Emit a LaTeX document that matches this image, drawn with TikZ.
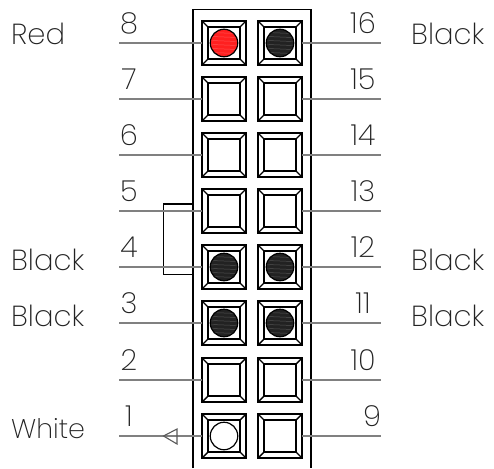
\documentclass[tikz,border=0pt]{standalone}
\usepackage{fontspec}
\setmainfont[UprightFont=* ExtraLight]{Poppins}
\definecolor{lead}{HTML}{808080}
\definecolor{pindark}{HTML}{222222}
\definecolor{pinred}{HTML}{FF2020}
\definecolor{txt}{HTML}{222222}
\tikzset{
  x=1pt,y=-1pt,
  pinbox/.style={draw=black,line width=2.4pt,minimum size=43.5pt,inner sep=0pt,outer sep=0pt,rectangle},
  pinin/.style={draw=black,line width=1.6pt,minimum size=31.5pt,inner sep=0pt,outer sep=0pt,rectangle},
  bevel/.style={draw=black,line width=1.4pt},
  leadline/.style={draw=lead,line width=1.8pt},
  housing/.style={draw=black,line width=1.6pt},
  strap/.style={draw=black,line width=1.6pt},
  numlabel/.style={text=txt,font=\fontsize{29}{29}\selectfont,inner sep=0pt,anchor=center},
  wirelabel/.style={text=txt,font=\fontsize{29}{29}\selectfont,inner sep=0pt,anchor=base west},
  streaks/.style={path picture={
    \foreach \s in {-10,-6,-2,2,6,10}
      \draw[white,opacity=.22,line width=.5pt]
        ([xshift=-15pt,yshift=\s pt]path picture bounding box.center)
        .. controls ([xshift=-5pt,yshift=\s pt+1pt]path picture bounding box.center)
        and ([xshift=5pt,yshift=\s pt-1pt]path picture bounding box.center)
        .. ([xshift=15pt,yshift=\s pt]path picture bounding box.center);
  }},
  blackdot/.style={circle,draw=black,line width=1.2pt,fill=pindark,minimum size=27.5pt,inner sep=0pt,streaks},
  reddot/.style={circle,draw=black,line width=1.2pt,fill=pinred,minimum size=27.5pt,inner sep=0pt,streaks},
  whitedot/.style={circle,draw=black,line width=1.2pt,fill=white,minimum size=27.5pt,inner sep=0pt},
  arrowtri/.style={draw=black!65,line width=1.1pt,line join=miter},
}
\newcommand{\pinrow}[3]{% name, x, y
  \node[pinbox] (p#1) at (#2,#3) {};
  \node[pinin] (q#1) at (#2,#3) {};
  \foreach \c in {north west,north east,south west,south east}
    \draw[bevel] (p#1.\c) -- (q#1.\c);
}
\begin{document}
\begin{tikzpicture}
\useasboundingbox (0,0) rectangle (494,468);
% housing
\coordinate (hbl) at (193,468);
\coordinate (htl) at (193,9.5);
\coordinate (htr) at (311,9.5);
\coordinate (hbr) at (311,468);
\draw[housing] (hbl) -- (htl) -- (htr) -- (hbr);
% pins
\foreach \n/\yy in {8/43,7/99,6/155,5/211,4/267,3/323,2/380,1/436}{
  \pinrow{\n}{224}{\yy}
  \coordinate (l\n) at (119,\yy);
  \node[numlabel] (n\n) at (129,\yy-20) {\n};
}
\foreach \n/\nx/\yy in {16/363/43,15/363/99,14/363/155,13/363/211,12/363/267,11/363/323,10/363/380,9/372/436}{
  \pinrow{\n}{280}{\yy}
  \coordinate (l\n) at (381,\yy);
  \node[numlabel] (n\n) at (\nx,\yy-20) {\n};
}
% strap
\coordinate (sa) at (193,204);
\coordinate (sb) at (163.5,204);
\coordinate (sc) at (163.5,274.5);
\coordinate (sd) at (193,274.5);
\draw[strap] (sa) -- (sb) -- (sc) -- (sd);
% leads
\foreach \n in {8,7,6,5,4,3,2,1}
  \draw[leadline] (l\n) -- (p\n.west);
\foreach \n in {16,15,14,13,12,11,10,9}
  \draw[leadline] (p\n.east) -- (l\n);
% arrow on pin 1
\coordinate (tipa) at (163.5,436);
\coordinate (tipb) at (177,429);
\coordinate (tipc) at (177,444);
\draw[arrowtri] (tipb) -- (tipa) -- (tipc) -- cycle;
% dots
\node[reddot] (d8) at (p8) {};
\foreach \n in {16,4,12,3,11}
  \node[blackdot] (d\n) at (p\n) {};
\node[whitedot] (d1) at (p1) {};
% wire labels
\node[wirelabel] (w8) at (11,45) {Red};
\node[wirelabel] (w16) at (411,45) {Black};
\node[wirelabel] (w4) at (11,270) {Black};
\node[wirelabel] (w12) at (411,270) {Black};
\node[wirelabel] (w3) at (11,326) {Black};
\node[wirelabel] (w11) at (411,326) {Black};
\node[wirelabel,font=\fontsize{27}{27}\selectfont] (w1) at (11,438) {White};
\end{tikzpicture}
\end{document}
